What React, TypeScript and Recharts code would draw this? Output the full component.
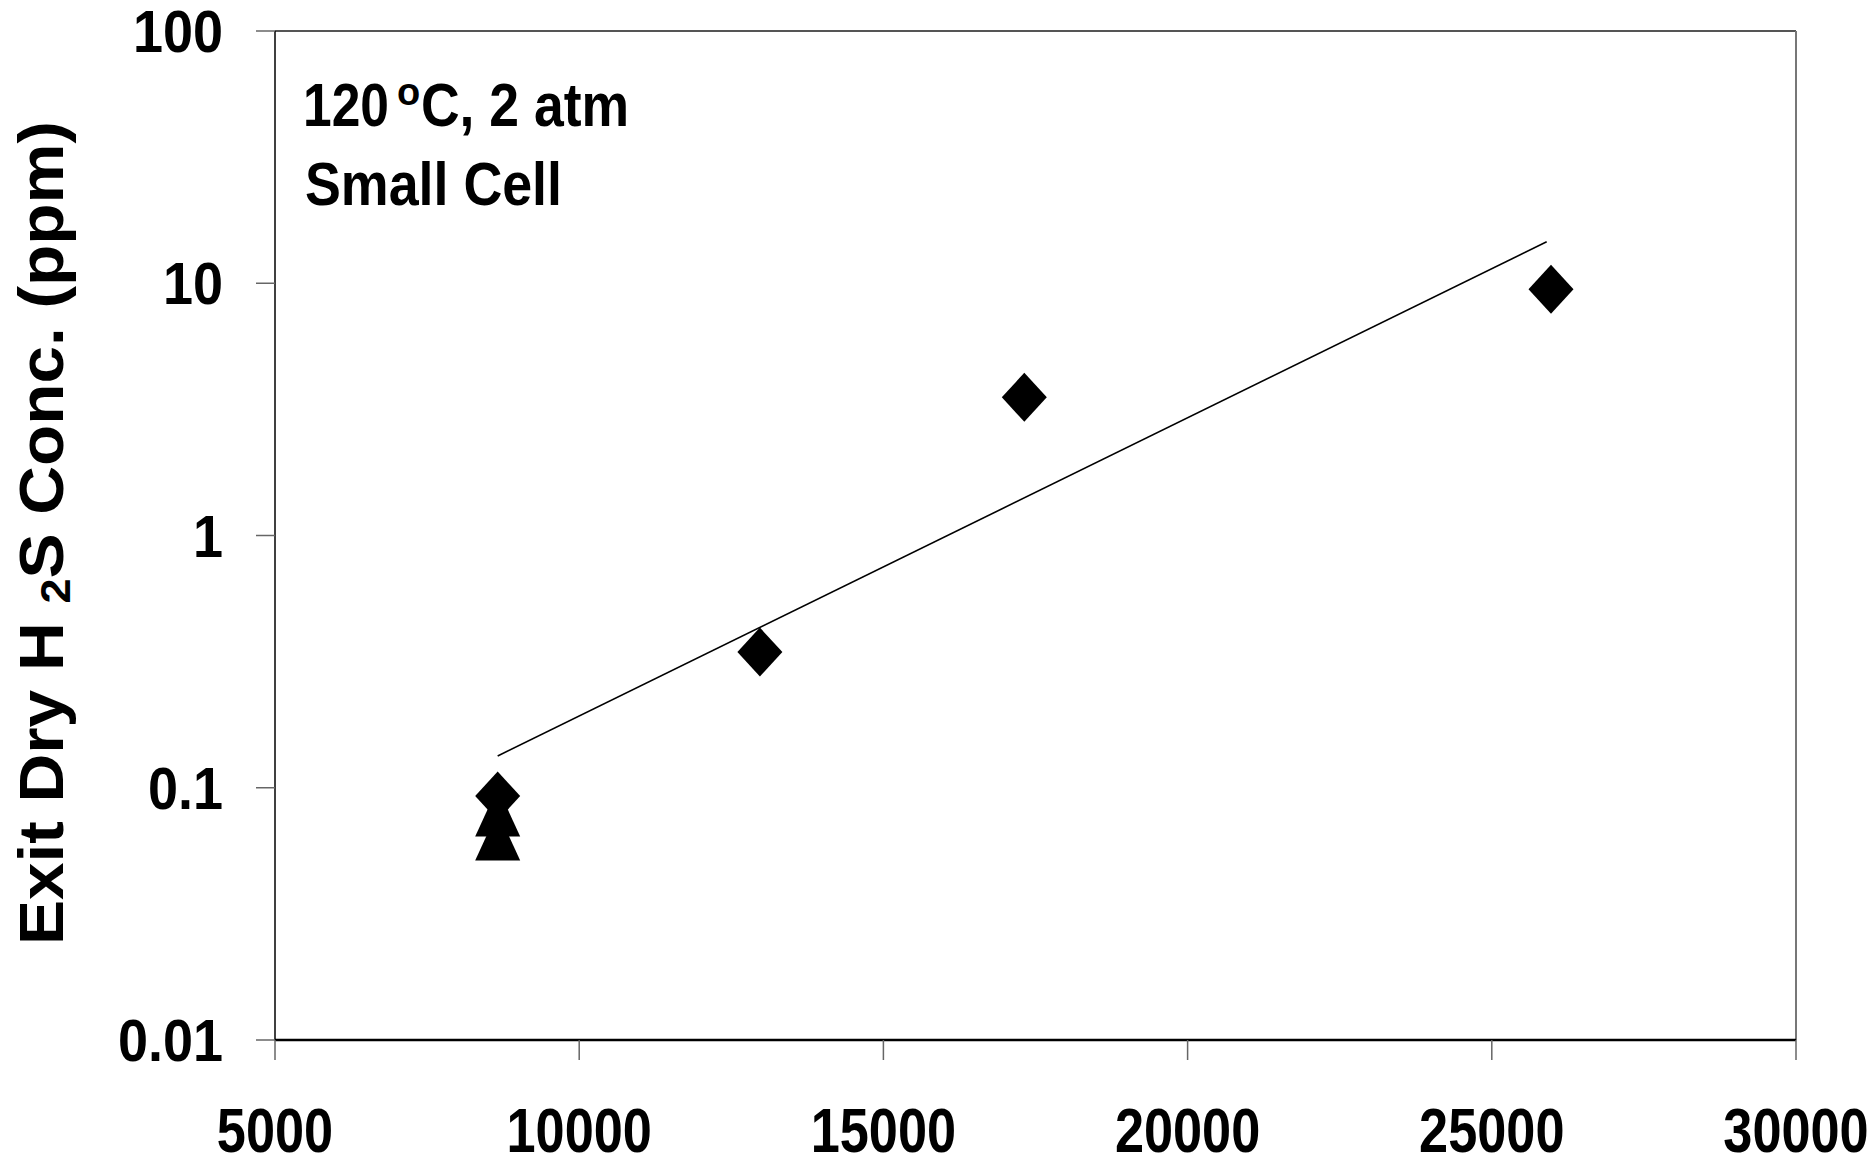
import React from 'react';
import { ScatterChart, Scatter, XAxis, YAxis, ReferenceLine } from 'recharts';

// ---- data ----
const xTicks = [5000, 10000, 15000, 20000, 25000, 30000];
const yTicks = [0.01, 0.1, 1, 10, 100];

const diamondX = [8660, 12970, 17316, 25973];
const diamondY = [0.0927, 0.345, 3.53, 9.46];

const triangleX = [8660, 8660];
const triangleY = [0.0802, 0.0644];

const trendX = [8660, 25902];
const trendY = [0.1336, 14.6];

const diamonds = diamondX.map((x, i) => ({ x, y: diamondY[i] }));
const triangles = triangleX.map((x, i) => ({ x, y: triangleY[i] }));
const trend = trendX.map((x, i) => ({ x, y: trendY[i] }));

const FONT = '"Liberation Sans", Arial, sans-serif';

const W: Record<string, number> = { '0': 0.556, '1': 0.556, '2': 0.556, '3': 0.556, '5': 0.556, '.': 0.278 };
const natural = (s: string) => s.split('').reduce((a, c) => a + (W[c] ?? 0.556), 0);

const XTick = (props: any) => {
  const { x, y, payload } = props;
  const s = String(payload.value);
  const fs = 63;
  return (
    <text x={x} y={y + 44} textAnchor="middle" fontSize={fs} fontWeight="bold" fontFamily={FONT}
      fill="#000" textLength={natural(s) * fs * 0.83} lengthAdjust="spacingAndGlyphs">{s}</text>
  );
};

const YTick = (props: any) => {
  const { x, y, payload } = props;
  const s = String(payload.value);
  const fs = 60;
  return (
    <text x={x} y={y + 21} textAnchor="end" fontSize={fs} fontWeight="bold" fontFamily={FONT}
      fill="#000" textLength={natural(s) * fs * 0.9} lengthAdjust="spacingAndGlyphs">{s}</text>
  );
};

const Diamond = (props: any) => {
  const { cx, cy } = props;
  const hw = 22.5, hh = 24.5;
  return <polygon points={`${cx},${cy - hh} ${cx + hw},${cy} ${cx},${cy + hh} ${cx - hw},${cy}`} fill="#000" />;
};

const Triangle = (props: any) => {
  const { cx, cy } = props;
  const hw = 22.5, hh = 24.5;
  return <polygon points={`${cx},${cy - hh} ${cx + hw},${cy + hh} ${cx - hw},${cy + hh}`} fill="#000" />;
};

const NoShape = () => <g />;

export default function App() {
  return (
    <div style={{ position: 'relative', width: 1868, height: 1158, background: '#fff' }}>
      <style>{'body{margin:0;}'}</style>
      <ScatterChart width={1868} height={1158} margin={{ top: 31, right: 72, left: 0, bottom: 0 }}>
        <XAxis dataKey="x" type="number" domain={[5000, 30000]} ticks={xTicks} interval={0}
          allowDataOverflow height={118} tickSize={20} tickMargin={48}
          axisLine={{ stroke: '#000', strokeWidth: 2.5 }} tickLine={{ stroke: '#666', strokeWidth: 1.5 }}
          tick={<XTick />} />
        <YAxis dataKey="y" type="number" scale="log" domain={[0.01, 100]} ticks={yTicks} interval={0}
          allowDataOverflow width={275} tickSize={19} tickMargin={33}
          axisLine={{ stroke: '#000', strokeWidth: 1.5 }} tickLine={{ stroke: '#666', strokeWidth: 1.5 }}
          tick={<YTick />} />
        <ReferenceLine y={100} stroke="#555" strokeWidth={2} />
        <ReferenceLine x={30000} stroke="#777" strokeWidth={2} />
        <Scatter data={trend} line={{ stroke: '#000', strokeWidth: 1.6 }} shape={<NoShape />} isAnimationActive={false} />
        <Scatter data={triangles} shape={<Triangle />} isAnimationActive={false} />
        <Scatter data={diamonds} shape={<Diamond />} isAnimationActive={false} />
      </ScatterChart>
      <svg width={1868} height={1158} style={{ position: 'absolute', left: 0, top: 0, pointerEvents: 'none' }}>
        <text transform="translate(63, 945) rotate(-90)" x={0} y={0} fontFamily={FONT} fontWeight="bold"
          fontSize={63} fill="#000" textLength={824} lengthAdjust="spacingAndGlyphs">
          <tspan>Exit Dry H </tspan>
          <tspan fontSize={42} dy={7}>2</tspan>
          <tspan dy={-7}>S Conc. (ppm)</tspan>
        </text>
        <text x={303} y={126} fontFamily={FONT} fontWeight="bold" fontSize={61} fill="#000"
          textLength={86} lengthAdjust="spacingAndGlyphs">120</text>
        <text x={397} y={105} fontFamily={FONT} fontWeight="bold" fontSize={38} fill="#000">o</text>
        <text x={421} y={126} fontFamily={FONT} fontWeight="bold" fontSize={61} fill="#000"
          textLength={208} lengthAdjust="spacingAndGlyphs">C, 2 atm</text>
        <text x={305} y={205} fontFamily={FONT} fontWeight="bold" fontSize={61} fill="#000"
          textLength={257} lengthAdjust="spacingAndGlyphs">Small Cell</text>
      </svg>
    </div>
  );
}
